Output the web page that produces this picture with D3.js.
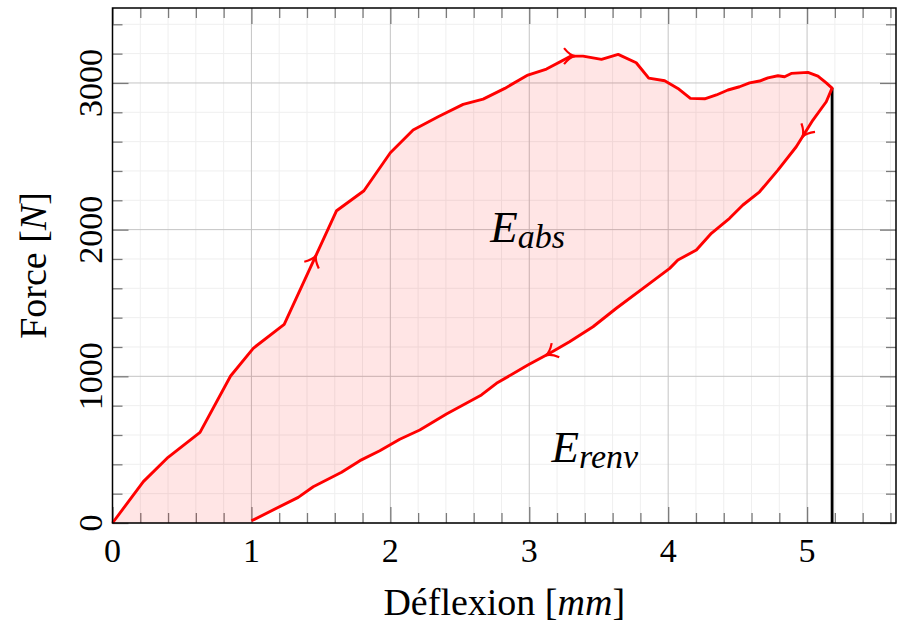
<!DOCTYPE html>
<html>
<head>
<meta charset="utf-8">
<script src="https://cdn.jsdelivr.net/npm/d3@7"></script>
<style>
  body { margin: 0; background: #fff; }
  text { font-family: "Liberation Serif", "DejaVu Serif", serif; fill: #000; }
</style>
</head>
<body>
<svg id="drawing_region"></svg>
<script>
// loading branch (deflexion mm, force N)
const loadX = [0, 0.222, 0.40, 0.63, 0.85, 1.013, 1.236, 1.613, 1.81, 2.0, 2.164, 2.344, 2.524, 2.668, 2.824,
  2.99, 3.124, 3.30, 3.387, 3.52, 3.64, 3.77, 3.86, 3.975, 4.07, 4.16, 4.263, 4.347, 4.43, 4.514, 4.586,
  4.658, 4.718, 4.79, 4.838, 4.886, 5.006, 5.078, 5.138, 5.18];
const loadY = [0, 282, 448, 618, 1002, 1191, 1354, 2129, 2265, 2524, 2679, 2770, 2854, 2890, 2963,
  3054, 3095, 3183, 3183, 3161, 3195, 3138, 3033, 3015, 2963, 2895, 2892, 2918, 2952, 2974, 3001,
  3013, 3035, 3049, 3042, 3065, 3072, 3047, 3001, 2965];

// unloading branch
const unloadX = [5.18, 5.138, 5.042, 4.922, 4.79, 4.658, 4.538, 4.442, 4.311, 4.203, 4.07, 4.011, 3.867,
  3.627, 3.459, 3.29, 3.147, 2.99, 2.764, 2.656, 2.404, 2.212, 2.068, 1.924, 1.781, 1.649, 1.445, 1.337, 1.0];
const unloadY = [2965, 2872, 2747, 2565, 2406, 2258, 2168, 2077, 1975, 1861, 1793, 1736, 1634,
  1464, 1338, 1236, 1157, 1077, 952, 873, 743, 634, 571, 493, 425, 346, 247, 175, 15];

const xMajor = [0, 1, 2, 3, 4, 5];
const yMajor = [0, 1000, 2000, 3000];
const arrowAt = [0.2, 0.4, 0.6, 0.8];

const width = 897, height = 626;
const margin = {top: 8, right: 1, bottom: 103, left: 112.5};

const svg = d3.select('#drawing_region')
    .attr('width', width)
    .attr('height', height);

const x = d3.scaleLinear().domain([0, 5.64]).range([margin.left, width - margin.right]);
const y = d3.scaleLinear().domain([0, 3511]).range([height - margin.bottom, margin.top]);

const xMinor = d3.range(0, 5.64, 0.2).filter(v => Math.abs(v - Math.round(v)) > 1e-6);
const yMinor = d3.range(0, 3511, 200).filter(v => v % 1000 !== 0);

// grid
const grid = svg.append('g');
grid.selectAll('.vminor').data(xMinor).join('line')
    .attr('x1', d => x(d)).attr('x2', d => x(d))
    .attr('y1', y(0)).attr('y2', y(3511))
    .attr('stroke', '#efefef').attr('stroke-width', 1);
grid.selectAll('.hminor').data(yMinor).join('line')
    .attr('y1', d => y(d)).attr('y2', d => y(d))
    .attr('x1', x(0)).attr('x2', x(5.64))
    .attr('stroke', '#efefef').attr('stroke-width', 1);
grid.selectAll('.vmajor').data(xMajor).join('line')
    .attr('x1', d => x(d)).attr('x2', d => x(d))
    .attr('y1', y(0)).attr('y2', y(3511))
    .attr('stroke', '#c4c4c4').attr('stroke-width', 1);
grid.selectAll('.hmajor').data(yMajor).join('line')
    .attr('y1', d => y(d)).attr('y2', d => y(d))
    .attr('x1', x(0)).attr('x2', x(5.64))
    .attr('stroke', '#c4c4c4').attr('stroke-width', 1);

// ticks inside on every side
function ticks(axisFn, scale, vals, size, tr) {
    const g = svg.append('g').attr('transform', tr)
        .call(axisFn(scale).tickValues(vals).tickSize(size).tickFormat(''));
    g.select('.domain').remove();
    g.selectAll('line').attr('stroke', '#7a7a7a').attr('stroke-width', 1.3);
}
ticks(d3.axisBottom, x, xMajor, -16, `translate(0,${y(0)})`);
ticks(d3.axisBottom, x, xMinor, -10, `translate(0,${y(0)})`);
ticks(d3.axisTop, x, xMajor, -16, `translate(0,${y(3511)})`);
ticks(d3.axisTop, x, xMinor, -10, `translate(0,${y(3511)})`);
ticks(d3.axisLeft, y, yMajor, -16, `translate(${x(0)},0)`);
ticks(d3.axisLeft, y, yMinor, -10, `translate(${x(0)},0)`);
ticks(d3.axisRight, y, yMajor, -16, `translate(${x(5.64)},0)`);
ticks(d3.axisRight, y, yMinor, -10, `translate(${x(5.64)},0)`);

// energy area
const pts = loadX.map((d, i) => [d, loadY[i]])
    .concat(unloadX.map((d, i) => [d, unloadY[i]]));
const line = d3.line().x(d => x(d[0])).y(d => y(d[1]));

svg.append('path')
    .attr('d', line(pts.concat([[1.0, 0], [0, 0]])) + 'Z')
    .attr('fill', '#ff0000').attr('fill-opacity', 0.1).attr('stroke', 'none');

// vertical line at max deflexion
const last = loadX.length - 1;
svg.append('line')
    .attr('x1', x(loadX[last])).attr('x2', x(loadX[last]))
    .attr('y1', y(loadY[last])).attr('y2', y(0))
    .attr('stroke', '#000').attr('stroke-width', 2.8);

const curve = svg.append('path')
    .attr('d', line(pts))
    .attr('fill', 'none').attr('stroke', '#ff0000')
    .attr('stroke-width', 2.9).attr('stroke-linejoin', 'round');

// direction arrows
const node = curve.node();
const total = node.getTotalLength();
arrowAt.forEach(f => {
    const p = node.getPointAtLength(f * total);
    const a = node.getPointAtLength(f * total - 2), b = node.getPointAtLength(f * total + 2);
    const ang = Math.atan2(b.y - a.y, b.x - a.x) * 180 / Math.PI;
    svg.append('path')
        .attr('d', 'M-9,-8 C-5,-3 -2,-0.7 2,0 C-2,0.7 -5,3 -9,8')
        .attr('transform', `translate(${p.x},${p.y}) rotate(${ang})`)
        .attr('fill', 'none').attr('stroke', '#ff0000').attr('stroke-width', 2.2);
});

// frame
svg.append('rect')
    .attr('x', x(0)).attr('y', y(3511))
    .attr('width', x(5.64) - x(0)).attr('height', y(0) - y(3511))
    .attr('fill', 'none').attr('stroke', '#000').attr('stroke-width', 1.5);

// tick labels
svg.append('g').selectAll('text').data(xMajor).join('text')
    .attr('x', d => x(d)).attr('y', y(0) + 39)
    .attr('text-anchor', 'middle').attr('font-size', 34)
    .text(d => d);
svg.append('g').selectAll('text').data(yMajor).join('text')
    .attr('transform', d => `translate(${x(0) - 11},${y(d)}) rotate(-90)`)
    .attr('text-anchor', 'middle').attr('font-size', 34)
    .text(d => d);

// axis titles
const xt = svg.append('text')
    .attr('x', (x(0) + x(5.64)) / 2).attr('y', 615)
    .attr('text-anchor', 'middle').attr('font-size', 38);
xt.append('tspan').text('Déflexion [');
xt.append('tspan').attr('font-style', 'italic').text('mm');
xt.append('tspan').text(']');

const yt = svg.append('text')
    .attr('transform', `translate(46,${(y(0) + y(3511)) / 2}) rotate(-90)`)
    .attr('text-anchor', 'middle').attr('font-size', 38);
yt.append('tspan').text('Force [');
yt.append('tspan').attr('font-style', 'italic').text('N');
yt.append('tspan').text(']');

// energy labels
function energy(xv, yv, sub) {
    const t = svg.append('text').attr('x', x(xv)).attr('y', y(yv))
        .attr('font-style', 'italic').attr('font-size', 45);
    t.append('tspan').text('E');
    t.append('tspan').attr('font-size', 34).attr('dy', 6).text(sub);
}
energy(2.72, 1915, 'abs');
energy(3.16, 418, 'renv');
</script>
</body>
</html>
